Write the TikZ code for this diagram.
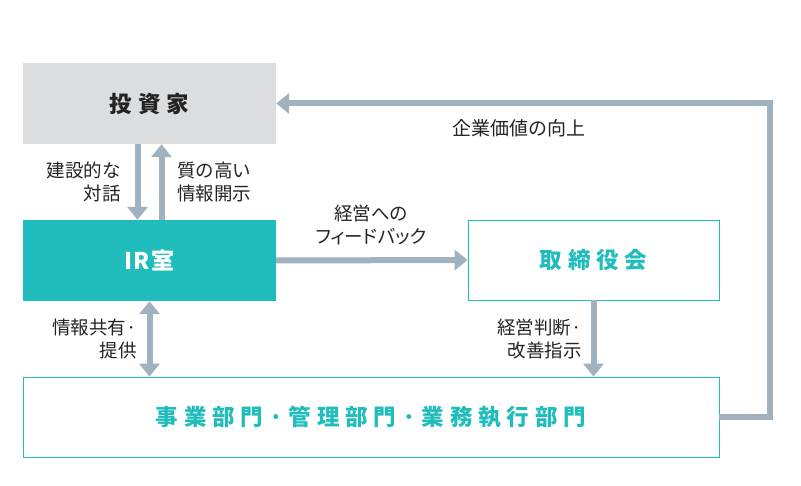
\documentclass[tikz,border=0pt]{standalone}
\usepackage{fontspec}
\setmainfont{Noto Sans CJK JP}
\usepackage{tikz}
\usetikzlibrary{arrows.meta,positioning}
\definecolor{irteal}{RGB}{33,189,189}
\definecolor{invgray}{RGB}{220,221,223}
\definecolor{flowgray}{RGB}{160,178,192}
\definecolor{ink}{RGB}{35,35,35}

\begin{document}
\begin{tikzpicture}[x=1pt,y=-1pt,
    box/.style={minimum width=#1,inner sep=0pt,font=\fontsize{22.5}{26}\selectfont\bfseries\addfontfeature{LetterSpace=26}},
    flow/.style={line width=6pt,color=flowgray,-{Triangle[length=13pt,width=20pt]}},
    note/.style={align=#1,inner sep=0pt,color=ink,font=\fontsize{18.5}{23}\selectfont}]
  \useasboundingbox (0,0) rectangle (801,486);
  % boxes
  \node[box=253pt,minimum height=81pt,fill=invgray,text=ink] (inv) at (149.5,103.5) {投資家};
  \node[box=253pt,minimum height=81pt,fill=irteal,text=white,font=\fontsize{23}{26}\selectfont\bfseries\addfontfeature{LetterSpace=6}] (ir) at (149.5,260.5) {IR室};
  \node[box=251pt,minimum height=80pt,draw=irteal,line width=0.8pt,text=irteal] (board) at (593.5,260) {取締役会};
  \node[box=696pt,minimum height=80pt,draw=irteal,line width=0.8pt,text=irteal] (dept) at (371,417) {事業部門·管理部門·業務執行部門};

  % connectors
  \draw[flow] ([xshift=-12pt]inv.south) -- ([xshift=-12pt]ir.north);
  \draw[flow] ([xshift=12pt]ir.north) -- ([xshift=12pt]inv.south);
  \draw[flow] (ir.east) -- (board.west);
  \draw[flow,{Triangle[length=13pt,width=20pt]}-{Triangle[length=13pt,width=20pt]}] (ir.south) -- (ir.south |- dept.north);
  \draw[flow] (board.south) -- (board.south |- dept.north);
  \draw[flow,line join=miter] (dept.east) -- ++(51,0) |- (inv.east);

  % labels
  \node[note=right,anchor=east] (dialog) at (121,181.5) {建設的な\\対話};
  \node[note=left,anchor=west] (disclose) at (177,181.5) {質の高い\\情報開示};
  \node[note=center] (feedback) at (371,224.5) {経営への\\\addfontfeature{RawFeature=+palt}フィードバック};
  \node[note=center,font=\fontsize{19}{23}\selectfont] (value) at (519,128) {企業価値の向上};
  \node[note=right,anchor=east] (share) at (137,338.5) {情報共有·\\提供};
  \node[note=right,anchor=east] (decide) at (582,338.5) {経営判断·\\改善指示};
\end{tikzpicture}
\end{document}
